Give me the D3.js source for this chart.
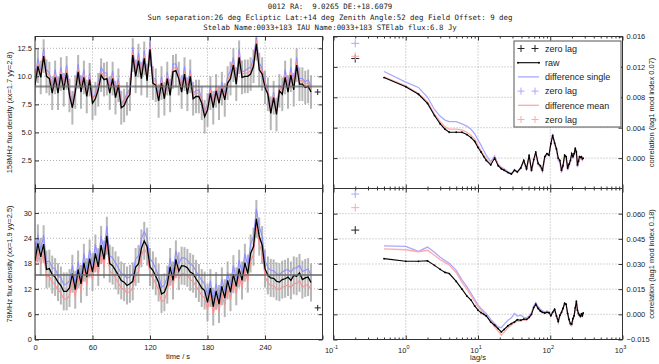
<!DOCTYPE html>
<html>
<head>
<meta charset="utf-8">
<script src="https://d3js.org/d3.v7.min.js"></script>
<style>
  body { margin: 0; background: #fff; }
  text { font-family: "Liberation Sans", Arial, sans-serif; fill: #222; }
  .title { font-family: "DejaVu Sans Mono", monospace; font-size: 7.4px; white-space: pre; }
  .grid { stroke: #999; stroke-width: 0.8; stroke-dasharray: 1,2; }
</style>
</head>
<body>
<svg id="chart" width="659" height="364"></svg>
<script>
// ---- data ----
const titleLines = [
  '0012 RA:  9.0265 DE:+18.6079',
  'Sun separation:26 deg Ecliptic Lat:+14 deg Zenith Angle:52 deg Field Offset: 9 deg',
  'Stelab Name:0033+183 IAU Name:0033+183 STElab flux:6.8 Jy'
];

const time = [0,3,6,9,12,15,18,21,24,27,30,33,36,39,42,45,48,51,54,57,60,63,66,69,72,75,78,81,84,87,
  90,93,96,99,102,105,108,111,114,117,120,123,126,129,132,135,138,141,144,147,150,153,156,159,162,165,168,171,174,177,
  180,183,186,189,192,195,198,201,204,207,210,213,216,219,222,225,228,231,234,237,240,243,246,249,252,255,258,261,264,267,
  270,273,276,279,282,285,288];

// 158 MHz flux density
const raw158 = [9.2,10.9,9.9,11.8,10.0,9.8,8.5,9.9,8.5,10.2, 8.8,10.3,8.3,7.2,8.6,10.4,8.6,9.9,8.2,9.7,
  7.6,8.0,8.8,10.1,9.7,9.8,8.5,9.8,8.1,9.2, 7.2,7.4,8.0,8.4,11.9,10.0,11.4,9.8,11.6,9.6,
  12.4,9.4,9.2,7.8,9.4,8.0,9.8,8.3,10.4,10.5, 9.8,8.6,10.2,8.4,10.0,8.0,8.2,8.2,7.6,6.4,
  7.0,8.5,7.2,8.7,7.6,8.9,7.9,9.4,9.8,11.0, 9.3,11.7,9.9,10.0,10.0,10.2,10.9,12.9,10.6,10.2,
  9.0,8.4,6.7,8.1,6.6,8.7,8.4,9.9,8.6,10.1, 8.8,11.0,9.3,9.3,9.0,9.1,8.6];
const single158 = [9.7,11.6,10.4,12.5,10.6,10.3,9.0,10.6,9.0,10.8, 9.3,11.0,8.8,7.7,9.1,11.1,9.1,10.6,8.6,10.3,
  8.0,8.5,9.4,10.8,10.3,10.3,8.9,10.5,8.6,9.8, 7.6,7.9,8.5,8.9,12.6,10.5,12.1,10.3,12.3,10.1,
  13.1,9.9,9.7,8.3,10.0,8.4,10.4,8.8,11.1,11.1, 10.3,9.1,10.9,8.9,10.6,8.5,8.7,8.8,8.0,6.9,
  7.5,9.1,7.6,9.2,8.1,9.5,8.4,10.0,10.5,11.7, 9.8,12.4,10.4,10.5,10.7,10.8,11.6,13.5,11.2,10.7,
  9.5,8.9,7.1,8.6,7.0,9.2,8.9,10.6,9.1,10.8, 9.3,11.7,9.8,9.8,9.5,9.7,9.1];
const mean158 = [9.5,11.2,10.2,12.1,10.3,10.1,8.8,10.2,8.8,10.5, 9.1,10.6,8.6,7.5,8.9,10.7,8.9,10.2,8.5,10.0,
  7.9,8.3,9.1,10.4,10.0,10.1,8.8,10.1,8.4,9.5, 7.5,7.7,8.3,8.7,12.2,10.3,11.7,10.1,11.9,9.9,
  12.7,9.7,9.5,8.1,9.7,8.3,10.1,8.6,10.7,10.8, 10.1,8.9,10.5,8.7,10.3,8.3,8.5,8.5,7.9,6.7,
  7.3,8.8,7.5,9.0,7.9,9.2,8.2,9.7,10.1,11.3, 9.6,12.0,10.2,10.3,10.3,10.5,11.2,13.2,10.9,10.5,
  9.3,8.7,7.0,8.4,6.9,9.0,8.7,10.2,8.9,10.4, 9.1,11.3,9.6,9.6,9.3,9.4,8.9];

// 79 MHz flux density
const raw79 = [18.6,22.8,19.6,22.6,16.6,16.8,15.4,14.8,13.6,12.8, 11.4,11.4,12.2,15.6,11.8,16.6,13.2,18.2,14.8,19.2,
  16.0,20.4,17.2,22.4,19.0,24.6,18.0,17.5,16.4,15.2, 14.0,13.6,12.8,13.2,13.8,17.2,17.9,21.6,23.4,22.0,
  17.2,16.4,15.0,13.5,10.8,11.2,13.0,17.2,14.0,19.0, 16.2,17.5,17.4,17.0,16.0,15.6,14.4,13.4,12.2,11.6,
  8.8,12.2,7.8,11.5,8.4,12.6,9.8,14.0,11.2,15.5, 12.6,16.8,14.0,18.2,15.6,20.4,22.0,28.6,24.4,22.4,
  16.8,15.2,14.6,14.5,13.8,13.6,14.2,14.4,14.8,14.0, 15.2,15.0,15.8,14.2,14.6,14.8,13.5];
const single79 = [20.4,24.9,21.2,24.8,18.4,18.6,17.0,16.8,15.1,14.6, 13.0,13.2,13.9,17.6,13.4,18.5,14.8,20.4,16.6,21.3,
  17.7,22.6,19.0,24.6,20.9,26.9,19.8,19.4,18.1,17.0, 15.6,15.4,14.5,14.9,15.6,19.1,19.8,23.9,25.6,24.0,
  19.1,18.3,16.7,15.2,12.4,12.9,14.8,19.3,15.7,21.1, 18.1,19.4,19.3,18.9,17.8,17.5,16.1,15.1,14.0,13.2,
  10.4,13.9,9.4,13.2,10.0,14.4,11.5,15.9,13.0,17.5, 14.4,18.8,15.8,20.3,17.5,22.6,24.4,31.0,26.8,24.5,
  18.7,17.1,16.4,16.3,15.6,15.4,16.0,16.4,16.6,15.9, 17.0,16.9,17.6,16.1,16.4,16.7,15.2];
const mean79 = [17.0,21.0,17.8,20.8,14.8,15.0,13.6,13.0,11.8,11.0, 9.6,9.6,10.4,13.8,10.0,14.8,11.4,16.4,13.0,17.4,
  14.2,18.6,15.4,20.6,17.2,22.8,16.2,15.7,14.6,13.4, 12.2,11.8,11.0,11.4,12.0,15.4,16.1,19.8,21.6,20.2,
  15.4,14.6,13.2,11.7,9.0,9.4,11.2,15.4,12.2,17.2, 14.4,15.7,15.6,15.2,14.2,13.8,12.6,11.6,10.4,9.8,
  7.0,10.4,6.0,9.7,6.6,10.8,8.0,12.2,9.4,13.7, 10.8,15.0,12.2,16.4,13.8,18.6,20.2,26.8,22.6,20.6,
  15.0,13.4,12.8,12.7,12.0,11.8,12.4,12.6,13.0,12.2, 13.4,13.2,14.0,12.4,12.8,13.0,11.7];

const fluxSpread = [1.5, 4.5];          // grey error bars (158, 79)
const fluxLevel = [9.1, 15.3];          // grey mean level
const endPoint = [[295, 8.6], [295, 7.5]];

// correlation vs lag
const lags = [0.5,1,1.5,2,2.5,3,3.5,4,5,6, 7,8,9,10,11,12,13,15,17,19, 21,23,26,29,32,35,39,43,47,51,
  55,59,63,68,73,78,84,90,96,102, 108,115,122,129,136,143,150,158,166,174, 182,190,198,206,214,222,230,238,246,254,
  262,270,278,286];
const corrRaw158 = [0.0106,0.0094,0.0084,0.0072,0.0056,0.0045,0.0038,0.0034,0.0034,0.0034,
  0.0031,0.0027,0.0022,0.0014,0.0008,0.0002,-0.0003,-0.0009,0.0000,-0.0010,
  -0.0014,-0.0016,-0.0019,-0.0021,-0.0016,-0.0018,-0.0013,-0.0003,-0.0014,0.0004,
  -0.0016,-0.0002,0.0008,-0.0007,-0.0010,-0.0016,0.0002,0.0006,0.0004,0.0019,
  0.0030,0.0020,0.0012,0.0000,-0.0003,-0.0016,-0.0010,0.0004,0.0002,-0.0013,
  -0.0008,-0.0003,0.0006,0.0002,0.0006,0.0013,0.0008,-0.0009,-0.0004,0.0002,
  0.0001,0.0002,-0.0001,0.0000];
const corrSingle158 = [0.0114,0.0100,0.0093,0.0080,0.0064,0.0055,0.0050,0.0048,0.0048,0.0045,
  0.0042,0.0038,0.0032,0.0024,0.0017,0.0010,0.0004,-0.0005,0.0003,-0.0008,
  -0.0012,-0.0014,-0.0018,-0.0020,-0.0015,-0.0019,-0.0014,-0.0004,-0.0016,0.0003,
  -0.0018,-0.0004,0.0007,-0.0009,-0.0012,-0.0018,0.0000,0.0005,0.0003,0.0020,
  0.0032,0.0019,0.0010,-0.0003,-0.0006,-0.0019,-0.0012,0.0002,0.0000,-0.0016,
  -0.0011,-0.0005,0.0004,0.0000,0.0004,0.0011,0.0006,-0.0012,-0.0006,0.0000,
  -0.0001,0.0001,-0.0003,-0.0001];
const corrMean158 = [0.0107,0.0095,0.0085,0.0074,0.0058,0.0048,0.0041,0.0038,0.0038,0.0037,
  0.0034,0.0030,0.0025,0.0017,0.0010,0.0004,-0.0001,-0.0008,0.0001,-0.0009,
  -0.0013,-0.0016,-0.0019,-0.0021,-0.0016,-0.0019,-0.0013,-0.0003,-0.0015,0.0003,
  -0.0017,-0.0003,0.0007,-0.0008,-0.0011,-0.0017,0.0001,0.0005,0.0003,0.0019,
  0.0030,0.0019,0.0011,-0.0001,-0.0004,-0.0017,-0.0011,0.0003,0.0001,-0.0014,
  -0.0009,-0.0004,0.0005,0.0001,0.0005,0.0012,0.0007,-0.0010,-0.0005,0.0001,
  0.0000,0.0001,-0.0002,0.0000];
const corrRaw79 = [0.0332,0.0316,0.0316,0.0319,0.0292,0.0268,0.0250,0.0243,0.0196,0.0150,
  0.0110,0.0085,0.0050,0.0025,0.0010,0.0000,-0.0010,-0.0045,-0.0065,-0.0085,
  -0.0105,-0.0090,-0.0068,-0.0055,-0.0045,-0.0032,-0.0035,-0.0028,-0.0030,-0.0018,
  0.0000,0.0040,0.0060,0.0035,0.0020,0.0012,0.0008,0.0012,0.0010,-0.0008,
  0.0012,0.0030,-0.0010,-0.0042,-0.0005,0.0012,0.0035,0.0066,0.0060,0.0005,
  -0.0030,-0.0055,-0.0058,-0.0025,-0.0008,0.0040,0.0078,0.0025,0.0005,-0.0005,
  -0.0012,0.0003,-0.0008,0.0008];
const corrSingle79 = [0.0408,0.0405,0.0375,0.0401,0.0370,0.0340,0.0320,0.0305,0.0262,0.0205,
  0.0165,0.0125,0.0090,0.0055,0.0035,0.0018,0.0005,-0.0030,-0.0055,-0.0075,
  -0.0080,-0.0060,-0.0035,-0.0020,0.0005,-0.0010,-0.0005,-0.0018,-0.0020,-0.0010,
  0.0010,0.0050,0.0070,0.0045,0.0030,0.0020,0.0015,0.0020,0.0015,-0.0005,
  0.0015,0.0032,-0.0015,-0.0050,-0.0010,0.0008,0.0032,0.0064,0.0055,-0.0002,
  -0.0038,-0.0065,-0.0068,-0.0032,-0.0014,0.0036,0.0075,0.0020,-0.0002,-0.0012,
  -0.0018,-0.0002,-0.0012,0.0005];
const corrMean79 = [0.0390,0.0385,0.0373,0.0382,0.0352,0.0325,0.0308,0.0295,0.0248,0.0190,
  0.0150,0.0112,0.0078,0.0045,0.0025,0.0008,-0.0005,-0.0045,-0.0075,-0.0100,
  -0.0125,-0.0105,-0.0080,-0.0065,-0.0050,-0.0040,-0.0040,-0.0035,-0.0035,-0.0022,
  -0.0002,0.0038,0.0058,0.0033,0.0018,0.0010,0.0005,0.0010,0.0008,-0.0010,
  0.0010,0.0028,-0.0014,-0.0048,-0.0008,0.0010,0.0033,0.0064,0.0058,0.0002,
  -0.0034,-0.0060,-0.0062,-0.0028,-0.0010,0.0038,0.0076,0.0022,0.0002,-0.0008,
  -0.0015,0.0000,-0.0010,0.0006];
const zeroLagAt = 0.2;
const zeroLag158 = [0.0131, 0.0151, 0.0134];   // raw, single, mean
const zeroLag79 = [0.0502, 0.0717, 0.0636];

const timeTicks = [0, 60, 120, 180, 240, 300];
const fluxTicks158 = [2.5, 5, 7.5, 10, 12.5];
const fluxTicks79 = [0, 6, 12, 18, 24, 30];
const corrTicks158 = [0, 0.004, 0.008, 0.012, 0.016];
const corrTicks79 = [-0.015, 0, 0.015, 0.03, 0.045, 0.06];
const legendItems = ['zero lag', 'raw', 'difference single', 'zero lag', 'difference mean', 'zero lag'];

// ---- layout ----
const svg = d3.select('#chart');
const LEFT = [35, 322.5], RIGHT = [333.5, 622.5];
const ROWS = [[36.5, 188.5], [188.5, 339.5]];
const BLUE = '#8f8fff', RED = '#ff8f8f';
const BLUE_L = '#a9a9ff', RED_L = '#ffa9a9';

svg.append('g').selectAll('text').data(titleLines).join('text')
  .attr('class', 'title')
  .attr('x', 330).attr('y', (d, i) => 9 + i * 10.5)
  .attr('text-anchor', 'middle')
  .text(d => d);

function styleAxis(g) {
  g.select('.domain').remove();
  g.selectAll('.tick line').attr('stroke', '#333');
  g.selectAll('text').style('font-size', '7.5px');
}

function plus(g, x, y, color, r) {
  g.append('path')
    .attr('d', `M${x - r},${y}H${x + r}M${x},${y - r}V${y + r}`)
    .attr('stroke', color).attr('stroke-width', 1).attr('fill', 'none');
}

function timePanel(row, raw, single, mean, yMax, ticks, fmt, label) {
  const [y0, y1] = ROWS[row];
  const x = d3.scaleLinear().domain([0, 300]).range(LEFT);
  const y = d3.scaleLinear().domain([0, yMax]).range([y1, y0]);
  const g = svg.append('g');
  const id = 'clip-t' + row;
  svg.append('clipPath').attr('id', id).append('rect')
    .attr('x', LEFT[0]).attr('y', y0).attr('width', LEFT[1] - LEFT[0]).attr('height', y1 - y0);

  g.append('g').selectAll('line').data(timeTicks.slice(1, -1)).join('line')
    .attr('class', 'grid').attr('x1', x).attr('x2', x).attr('y1', y0).attr('y2', y1);
  g.append('g').selectAll('line').data(ticks.filter(d => d > 0)).join('line')
    .attr('class', 'grid').attr('x1', LEFT[0]).attr('x2', LEFT[1]).attr('y1', y).attr('y2', y);

  const plot = g.append('g').attr('clip-path', `url(#${id})`);
  const n = Math.min(time.length, raw.length);
  const e = fluxSpread[row];
  const pts = d3.range(n);
  // grey error bars
  plot.append('g').selectAll('line').data(pts).join('line')
    .attr('x1', i => x(time[i])).attr('x2', i => x(time[i]))
    .attr('y1', i => y(raw[i] - e)).attr('y2', i => y(raw[i] + e))
    .attr('stroke', '#9a9a9a').attr('stroke-width', 2).attr('opacity', 0.7);
  const line = d3.line().x(i => x(time[i]));
  [[single, BLUE], [mean, RED], [raw, '#000']].forEach(([vals, c]) => {
    plot.append('path').datum(pts).attr('d', line.y(i => y(vals[i])))
      .attr('fill', 'none').attr('stroke', c).attr('stroke-width', c === '#000' ? 1.3 : 1.1);
  });
  plot.append('line')
    .attr('x1', LEFT[0]).attr('x2', LEFT[1]).attr('y1', y(fluxLevel[row])).attr('y2', y(fluxLevel[row]))
    .attr('stroke', '#666').attr('stroke-width', 2).attr('opacity', 0.75);
  plus(plot, x(endPoint[row][0]), y(endPoint[row][1]), '#222', 3);

  // axes with inward ticks
  styleAxis(g.append('g').attr('transform', `translate(${LEFT[0]},0)`)
    .call(d3.axisLeft(y).tickValues(ticks).tickFormat(d3.format(fmt)).tickSize(-4).tickPadding(3)));
  styleAxis(g.append('g').attr('transform', `translate(${LEFT[1]},0)`)
    .call(d3.axisRight(y).tickValues(ticks).tickFormat('').tickSize(-4)));
  styleAxis(g.append('g').attr('transform', `translate(0,${y0})`)
    .call(d3.axisTop(x).tickValues(timeTicks).tickFormat('').tickSize(-4)));
  const bottom = d3.axisBottom(x).tickValues(timeTicks).tickSize(-4).tickPadding(5)
    .tickFormat(d => (row === 1 && d < 300) ? d : '');
  styleAxis(g.append('g').attr('transform', `translate(0,${y1})`).call(bottom));

  g.append('rect').attr('x', LEFT[0]).attr('y', y0).attr('width', LEFT[1] - LEFT[0]).attr('height', y1 - y0)
    .attr('fill', 'none').attr('stroke', '#333').attr('stroke-width', 1);
  g.append('text').attr('transform', `translate(12,${(y0 + y1) / 2}) rotate(-90)`)
    .attr('text-anchor', 'middle').style('font-size', '7.5px').text(label);
}

function corrPanel(row, raw, single, mean, zero, domain, ticks, label, withLegend) {
  const [y0, y1] = ROWS[row];
  const x = d3.scaleLog().domain([0.1, 1000]).range(RIGHT);
  const y = d3.scaleLinear().domain(domain).range([y1, y0]);
  const g = svg.append('g');
  const id = 'clip-c' + row;
  svg.append('clipPath').attr('id', id).append('rect')
    .attr('x', RIGHT[0]).attr('y', y0).attr('width', RIGHT[1] - RIGHT[0]).attr('height', y1 - y0);

  const major = [0.1, 1, 10, 100, 1000];
  const minor = x.ticks().filter(d => !major.some(m => Math.abs(m - d) < 1e-9));
  g.append('g').selectAll('line').data(major.slice(1, -1)).join('line')
    .attr('class', 'grid').attr('x1', x).attr('x2', x).attr('y1', y0).attr('y2', y1);
  g.append('g').selectAll('line').data(ticks.filter(d => y(d) > y0 + 1 && y(d) < y1 - 1)).join('line')
    .attr('class', 'grid').attr('x1', RIGHT[0]).attr('x2', RIGHT[1]).attr('y1', y).attr('y2', y);

  const plot = g.append('g').attr('clip-path', `url(#${id})`);
  const pts = d3.range(lags.length);
  const line = d3.line().x(i => x(lags[i]));
  plot.append('path').datum(pts).attr('d', line.y(i => y(single[i])))
    .attr('fill', 'none').attr('stroke', BLUE_L).attr('stroke-width', 1.3);
  plot.append('path').datum(pts).attr('d', line.y(i => y(mean[i])))
    .attr('fill', 'none').attr('stroke', RED_L).attr('stroke-width', 1.3);
  plot.append('path').datum(pts).attr('d', line.y(i => y(raw[i])))
    .attr('fill', 'none').attr('stroke', '#000').attr('stroke-width', 1.1);
  plot.append('g').selectAll('circle').data(pts).join('circle')
    .attr('cx', i => x(lags[i])).attr('cy', i => y(raw[i])).attr('r', 0.9).attr('fill', '#000');
  [['#222', zero[0]], [BLUE_L, zero[1]], [RED_L, zero[2]]].forEach(([c, v]) => plus(plot, x(zeroLagAt), y(v), c, 4));

  styleAxis(g.append('g').attr('transform', `translate(${RIGHT[1]},0)`)
    .call(d3.axisRight(y).tickValues(ticks).tickFormat(d3.format('.3f')).tickSize(-4).tickPadding(4)));
  styleAxis(g.append('g').attr('transform', `translate(${RIGHT[0]},0)`)
    .call(d3.axisLeft(y).tickValues(ticks).tickFormat('').tickSize(-4)));
  [[y0, d3.axisTop], [y1, d3.axisBottom]].forEach(([yy, ax]) => {
    styleAxis(g.append('g').attr('transform', `translate(0,${yy})`)
      .call(ax(x).tickValues(major).tickFormat('').tickSize(-4)));
    styleAxis(g.append('g').attr('transform', `translate(0,${yy})`)
      .call(ax(x).tickValues(minor).tickFormat('').tickSize(-2)));
  });
  if (row === 1) {
    const lab = g.append('g').selectAll('text').data(major).join('text')
      .attr('x', d => x(d) - 2).attr('y', y1 + 13).attr('text-anchor', 'middle').style('font-size', '7.5px');
    lab.append('tspan').text('10');
    lab.append('tspan').attr('dy', -3.5).style('font-size', '5.5px').text(d => Math.round(Math.log10(d)));
  }

  g.append('rect').attr('x', RIGHT[0]).attr('y', y0).attr('width', RIGHT[1] - RIGHT[0]).attr('height', y1 - y0)
    .attr('fill', 'none').attr('stroke', '#333').attr('stroke-width', 1);
  g.append('text').attr('transform', `translate(654,${(y0 + y1) / 2}) rotate(-90)`)
    .attr('text-anchor', 'middle').style('font-size', '7.5px').text(label);

  if (withLegend) {
    const lg = g.append('g').attr('transform', `translate(514,41)`);
    lg.append('rect').attr('width', 107).attr('height', 86)
      .attr('fill', '#fff').attr('stroke', '#555').attr('stroke-width', 1);
    const styles = [['plus', '#222'], ['line', '#000'], ['line', BLUE_L], ['plus', BLUE_L], ['line', RED_L], ['plus', RED_L]];
    legendItems.forEach((t, i) => {
      const cy = 7.5 + i * 14.2;
      const [kind, c] = styles[i];
      if (kind === 'plus') {
        plus(lg, 7, cy, c, 3.5);
        plus(lg, 21, cy, c, 3.5);
      } else {
        lg.append('line').attr('x1', 4).attr('x2', 25).attr('y1', cy).attr('y2', cy)
          .attr('stroke', c).attr('stroke-width', i === 1 ? 1.1 : 1.3);
        if (i === 1) [4, 25].forEach(px => lg.append('circle').attr('cx', px).attr('cy', cy).attr('r', 1).attr('fill', '#000'));
      }
      lg.append('text').attr('x', 31).attr('y', cy + 3.2).style('font-size', '9px').text(t);
    });
  }
}

timePanel(0, raw158, single158, mean158, 13.55, fluxTicks158, '.1f', '158MHz flux density (xx=1.7 yy=2.8)');
timePanel(1, raw79, single79, mean79, 35.8, fluxTicks79, 'd', '79MHz flux density (xx=1.9 yy=2.5)');
corrPanel(0, corrRaw158, corrSingle158, corrMean158, zeroLag158, [-0.004, 0.016], corrTicks158,
  'correlation (lag1 mod index 0.07)', true);
corrPanel(1, corrRaw79, corrSingle79, corrMean79, zeroLag79, [-0.015, 0.075], corrTicks79,
  'correlation (lag1 mod index 0.18)', false);

svg.append('text').attr('x', 178).attr('y', 359).attr('text-anchor', 'middle').style('font-size', '7.5px').text('time / s');
svg.append('text').attr('x', 478).attr('y', 360).attr('text-anchor', 'middle').style('font-size', '7.5px').text('lag/s');
</script>
</body>
</html>
